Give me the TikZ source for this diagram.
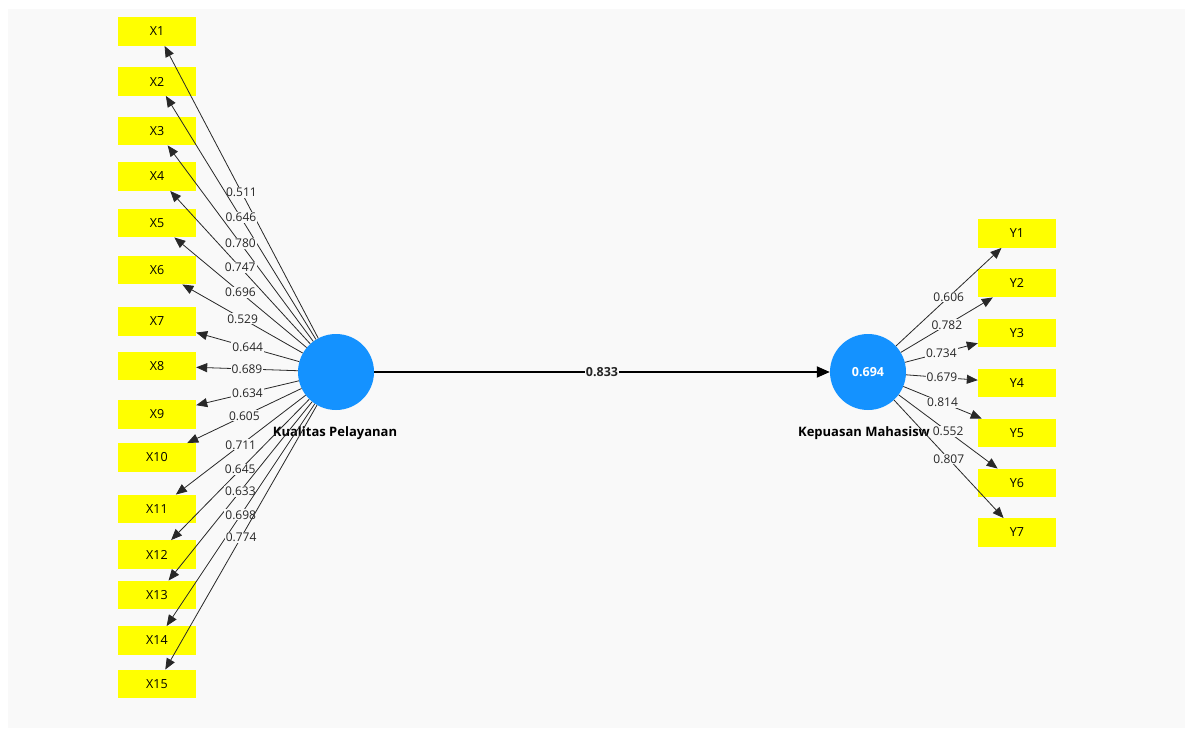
\documentclass[tikz,border=0pt]{standalone}
\usepackage{fontspec}
\setmainfont{Open Sans}
\usepackage{tikz}
\usetikzlibrary{arrows.meta,positioning}
\definecolor{plsBlue}{RGB}{20,146,255}
\definecolor{plsYellow}{RGB}{255,255,0}
\definecolor{plsBg}{RGB}{249,249,249}
\definecolor{plsLine}{RGB}{40,40,40}

\begin{document}
\begin{tikzpicture}[x=1pt,y=-1pt,
      ind/.style={fill=plsYellow, minimum width=78pt, minimum height=28.5pt,
                  inner sep=0pt, font=\fontsize{12.5}{14}\selectfont},
      lv/.style={circle, fill=plsBlue, minimum size=76pt, inner sep=0pt,
                 text=white, font=\fontsize{12.5}{14}\selectfont\bfseries},
      lvname/.style={font=\fontsize{13}{15}\selectfont\bfseries},
      ld/.style={-{Triangle[length=11pt,width=9pt]}, plsLine, line width=0.8pt},
      path/.style={-{Triangle[length=13pt,width=11pt]}, black, line width=1.8pt},
      val/.style={midway, fill=plsBg, inner sep=1pt, text=black!85,
                  font=\fontsize{12}{14}\selectfont}
    ]
      \useasboundingbox (0,0) rectangle (1191,735);
      \fill[plsBg] (8,9) rectangle (1185,728);
      % Latent variables
      \node[lv] (kp) at (336,372) {};
      \node[lvname] (kpname) at (335,433) {Kualitas Pelayanan};
      \node[lv] (km) at (868,372) {0.694};
      \node[lvname] (kmname) at (864,433) {Kepuasan Mahasisw};
      % Indicators X
      \node[ind] (x1) at (157,31.5) {X1};
      \node[ind] (x2) at (157,81.5) {X2};
      \node[ind] (x3) at (157,131) {X3};
      \node[ind] (x4) at (157,176.5) {X4};
      \node[ind] (x5) at (157,223) {X5};
      \node[ind] (x6) at (157,270) {X6};
      \node[ind] (x7) at (157,321.5) {X7};
      \node[ind] (x8) at (157,366) {X8};
      \node[ind] (x9) at (157,414.5) {X9};
      \node[ind] (x10) at (157,457.5) {X10};
      \node[ind] (x11) at (157,509) {X11};
      \node[ind] (x12) at (157,554.5) {X12};
      \node[ind] (x13) at (157,595) {X13};
      \node[ind] (x14) at (157,640.5) {X14};
      \node[ind] (x15) at (157,684) {X15};
      % Indicators Y
      \node[ind] (y1) at (1017,233.5) {Y1};
      \node[ind] (y2) at (1017,283) {Y2};
      \node[ind] (y3) at (1017,333) {Y3};
      \node[ind] (y4) at (1017,383) {Y4};
      \node[ind] (y5) at (1017,433) {Y5};
      \node[ind] (y6) at (1017,483) {Y6};
      \node[ind] (y7) at (1017,532.5) {Y7};
      % Outer loadings X
      \draw[ld] (kp) -- (x1) node[val] {0.511};
      \draw[ld] (kp) -- (x2) node[val] {0.646};
      \draw[ld] (kp) -- (x3) node[val] {0.780};
      \draw[ld] (kp) -- (x4) node[val] {0.747};
      \draw[ld] (kp) -- (x5) node[val] {0.696};
      \draw[ld] (kp) -- (x6) node[val] {0.529};
      \draw[ld] (kp) -- (x7) node[val] {0.644};
      \draw[ld] (kp) -- (x8) node[val] {0.689};
      \draw[ld] (kp) -- (x9) node[val] {0.634};
      \draw[ld] (kp) -- (x10) node[val] {0.605};
      \draw[ld] (kp) -- (x11) node[val] {0.711};
      \draw[ld] (kp) -- (x12) node[val] {0.645};
      \draw[ld] (kp) -- (x13) node[val] {0.633};
      \draw[ld] (kp) -- (x14) node[val] {0.698};
      \draw[ld] (kp) -- (x15) node[val] {0.774};
      % Outer loadings Y
      \draw[ld] (km) -- (y1) node[val] {0.606};
      \draw[ld] (km) -- (y2) node[val] {0.782};
      \draw[ld] (km) -- (y3) node[val] {0.734};
      \draw[ld] (km) -- (y4) node[val] {0.679};
      \draw[ld] (km) -- (y5) node[val] {0.814};
      \draw[ld] (km) -- (y6) node[val] {0.552};
      \draw[ld] (km) -- (y7) node[val] {0.807};
      % Path coefficient
      \draw[path] (kp) -- (km) node[val, font=\fontsize{12.5}{14}\selectfont\bfseries] {0.833};
    \end{tikzpicture}
\end{document}
